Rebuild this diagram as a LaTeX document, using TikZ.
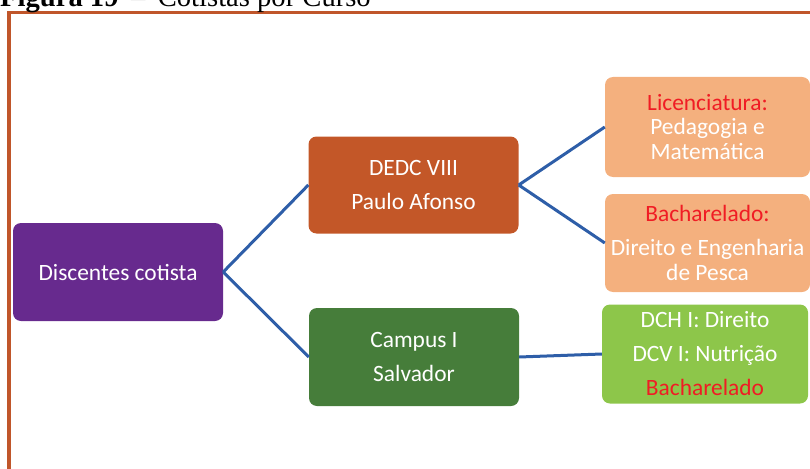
\documentclass[tikz,border=0pt]{standalone}
\usepackage{fontspec}
\setmainfont{Carlito}
\newfontfamily\titulofont{Liberation Serif}

\definecolor{moldura}{RGB}{192,86,42}
\definecolor{roxo}{RGB}{103,42,142}
\definecolor{laranja}{RGB}{195,87,40}
\definecolor{verdeesc}{RGB}{70,125,58}
\definecolor{pessego}{RGB}{244,176,126}
\definecolor{verdeclaro}{RGB}{141,198,74}
\definecolor{vermelho}{RGB}{240,28,36}
\definecolor{ligacao}{RGB}{46,94,168}

\tikzset{
  caixa/.style={rounded corners=8pt, text=white, align=center, inner sep=0pt,
    minimum width=210pt, minimum height=98pt, font=\fontsize{23.4}{34}\selectfont},
  ligar/.style={ligacao, line width=3pt},
}

\begin{document}
\begin{tikzpicture}[x=1pt, y=-1pt]
    \useasboundingbox (0,0) rectangle (810,468);

    %—————— moldura e título (cortados pela página) ——————
    \draw[moldura, line width=3.5pt] (830,12.5) -- (9,12.5) -- (9,490);
    \node[anchor=base west, inner sep=0pt, font=\titulofont\fontsize{28.6}{30}\selectfont]
        (titulo) at (0,7) {\textbf{Figura 19}\hspace{12.5pt}–\hspace{12.5pt}Cotistas por Curso};

    %—————— caixas ——————
    \node[caixa, fill=roxo] (disc) at (118,272) {Discentes cotista};
    \node[caixa, fill=laranja, minimum height=97pt] (dedc) at (413.5,185) {DEDC VIII\\Paulo Afonso};
    \node[caixa, fill=verdeesc] (campus) at (414,357) {Campus I\\Salvador};

    % cursos
    \node[caixa, fill=pessego, minimum width=205pt, minimum height=100pt,
        font=\fontsize{23.4}{24.5}\selectfont] (lic) at (707.5,127)
        {\textcolor{vermelho}{Licenciatura:}\\Pedagogia e\\Matemática};
    \node[caixa, fill=pessego, minimum width=205pt,
        font=\fontsize{23.4}{24.5}\selectfont] (bach) at (707.5,243)
        {\textcolor{vermelho}{Bacharelado:}\\[9.5pt]Direito e Engenharia\\de Pesca};
    \node[caixa, fill=verdeclaro, minimum width=206pt, minimum height=99pt] (dch) at (705,354)
        {DCH I: Direito\\DCV I: Nutrição\\\textcolor{vermelho}{Bacharelado}};

    %—————— ligações ——————
    \draw[ligar] (disc.east) -- (dedc.west);
    \draw[ligar] (disc.east) -- (campus.west);
    \draw[ligar] (dedc.east) -- (lic.west);
    \draw[ligar] (dedc.east) -- (bach.west);
    \draw[ligar] (campus.east) -- (dch.west);
\end{tikzpicture}
\end{document}
